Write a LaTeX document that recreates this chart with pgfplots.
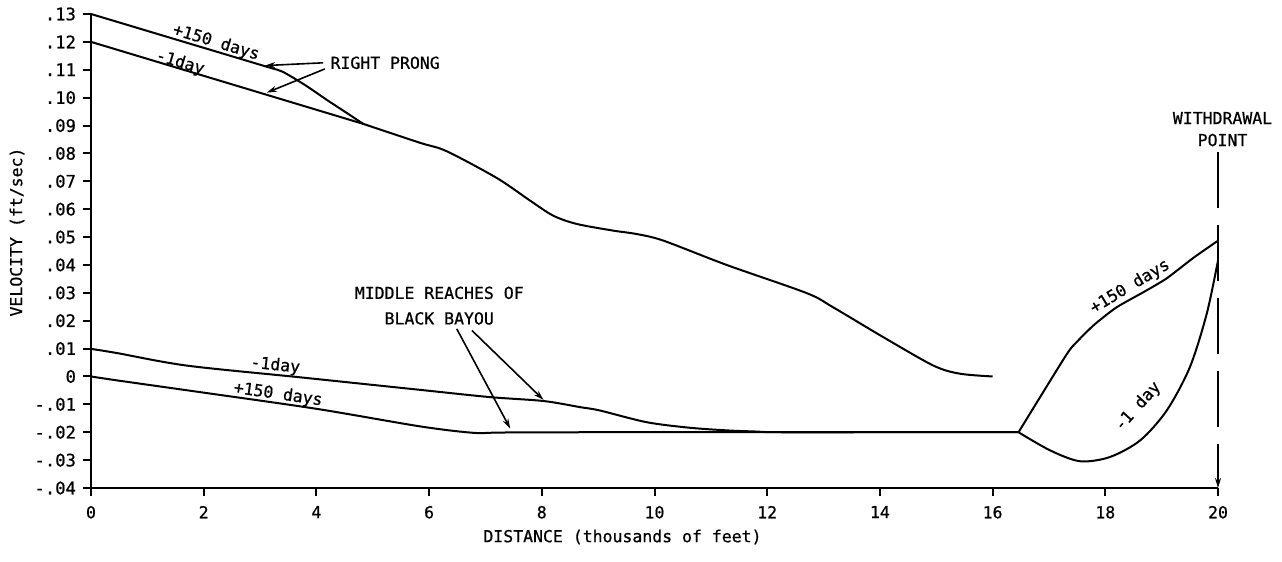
\documentclass[border=0pt]{standalone}
\usepackage{fontspec}
\setmainfont{DejaVu Sans Mono}[FakeBold=0.7]
\usepackage{pgfplots}
\pgfplotsset{compat=1.18}
\usetikzlibrary{arrows.meta}

\begin{document}
\begin{tikzpicture}[font=\fontsize{8.25bp}{10bp}\selectfont]
\useasboundingbox (-45.5bp,-37bp) rectangle (595.5bp,244bp);
\begin{axis}[
 scale only axis, width=563.5bp, height=237bp,
 xmin=0, xmax=20, ymin=-0.04, ymax=0.13,
 axis x line*=bottom, axis y line*=left,
 axis line style={line width=1.3bp},
 xtick={0,2,...,20},
 ytick={-0.04,-0.03,-0.02,-0.01,0,0.01,0.02,0.03,0.04,0.05,0.06,0.07,0.08,0.09,0.10,0.11,0.12,0.13},
 yticklabels={-.04,-.03,-.02,-.01,0,.01,.02,.03,.04,.05,.06,.07,.08,.09,.10,.11,.12,.13},
 /pgf/number format/assume math mode=true,
 tick align=outside, major tick length=4bp,
 tick style={line width=1bp, black},
 xticklabel style={yshift=-1.5bp},
 yticklabel style={font=\fontsize{8.6bp}{10bp}\selectfont},
 xlabel={DISTANCE (thousands of feet)},
 ylabel={VELOCITY (ft/sec)},
 xlabel style={at={(axis description cs:0.4716,-0.1034)}, anchor=center},
 ylabel style={at={(axis description cs:-0.0657,0.54)}, anchor=center},
 clip=false,
]
% Right prong, +150 days
\addplot[black, line width=1bp, smooth, tension=0.4] coordinates {(0,0.130) (1.5,0.1209) (3.1,0.1112) (3.4,0.1093) (3.8,0.1045) (4.2,0.0990) (4.6,0.0937) (4.83,0.0906)};
% Right prong, -1 day
\addplot[black, line width=1bp] coordinates {(0,0.120) (4.83,0.0906)};
% Common main curve
\addplot[black, line width=1bp, smooth, tension=0.5] coordinates {(4.83,0.0906) (5.84,0.0838) (6.31,0.0808) (7.2,0.0712) (7.79,0.0631) (8.2,0.0577) (8.62,0.0547) (9.27,0.0523) (9.68,0.0511) (10.16,0.0487) (11.28,0.0400) (12.7,0.0299) (13.17,0.0248) (14.06,0.0141) (14.95,0.0039) (15.42,0.0010) (16,0.0)};
% Middle reaches, -1 day
\addplot[black, line width=1bp, smooth, tension=0.5] coordinates {(0,0.0099) (0.46,0.0084) (1.7,0.0039) (3.71,-0.0003) (5.84,-0.0048) (7.08,-0.0074) (8.03,-0.0088) (8.68,-0.0110) (9.03,-0.0122) (9.86,-0.0164) (10.63,-0.0184) (11.34,-0.0194) (11.75,-0.0197) (12.2,-0.0200) (14,-0.0200) (16.46,-0.0200)};
% Middle reaches, +150 days
\addplot[black, line width=1bp, smooth, tension=0.5] coordinates {(0,0) (0.46,-0.0014) (1.93,-0.0056) (4.0,-0.0116) (5.84,-0.0179) (6.78,-0.0202) (7.3,-0.0201) (9,-0.0200) (16.46,-0.0200)};
% Near withdrawal, +150 days
\addplot[black, line width=1bp, smooth, tension=0.4] coordinates {(16.46,-0.020) (17.3,0.0075) (17.5,0.0125) (17.8,0.0185) (18.2,0.0248) (18.7,0.0305) (19.09,0.0352) (19.56,0.0425) (20,0.0487)};
% Near withdrawal, -1 day
\addplot[black, line width=1bp, smooth, tension=0.5] coordinates {(16.46,-0.020) (17.02,-0.0265) (17.55,-0.0304) (18.08,-0.0289) (18.62,-0.0229) (19.09,-0.0122) (19.5,0.0033) (19.8,0.0225) (20,0.0416)};

% annotations
\node[rotate=-16.7, inner sep=0pt] at (axis cs:2.22,0.1197) {+150 days};
\node[rotate=-16.8, inner sep=0pt] at (axis cs:1.58,0.1125) {-1day};
\node[inner sep=0pt] at (axis cs:5.22,0.1125) {RIGHT PRONG};
\draw[-{Stealth[length=5bp,width=3bp]}, line width=0.8bp] (axis cs:4.12,0.1125) -- (axis cs:3.09,0.1115);
\draw[-{Stealth[length=5bp,width=3bp]}, line width=0.8bp] (axis cs:4.15,0.1103) -- (axis cs:3.12,0.1018);

\node[align=center, inner sep=0pt, font=\fontsize{8.25bp}{12.75bp}\selectfont] at (axis cs:6.18,0.0254) {MIDDLE REACHES OF\\BLACK BAYOU};
\draw[-{Stealth[length=5bp,width=3bp]}, line width=0.8bp] (axis cs:6.49,0.0171) -- (axis cs:7.44,-0.0187);
\draw[-{Stealth[length=5bp,width=3bp]}, line width=0.8bp] (axis cs:6.76,0.0165) -- (axis cs:8.03,-0.0084);
\node[rotate=-6, inner sep=0pt] at (axis cs:3.27,0.0039) {-1day};
\node[rotate=-8.2, inner sep=0pt] at (axis cs:3.32,-0.0065) {+150 days};

\node[rotate=31, inner sep=0pt] at (axis cs:18.44,0.0322) {+150 days};
\node[rotate=48, inner sep=0pt] at (axis cs:18.58,-0.0108) {-1 day};

\node[align=center, inner sep=0pt, font=\fontsize{8.25bp}{11bp}\selectfont] at (axis cs:20.08,0.0887) {WITHDRAWAL\\POINT};
\draw[line width=1.2bp, dash pattern=on 28bp off 8.5bp, -{Stealth[length=5bp,width=3bp]}] (axis cs:20,0.0805) -- (axis cs:20,-0.04);
\end{axis}
\end{tikzpicture}
\end{document}
